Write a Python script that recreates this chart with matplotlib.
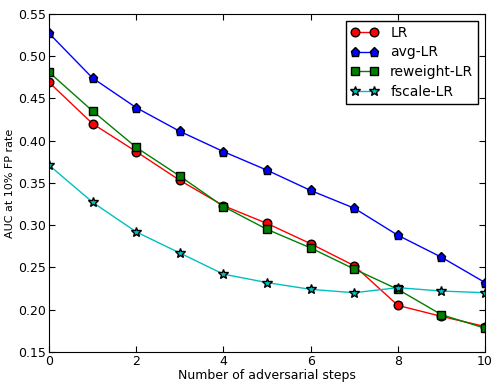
import matplotlib
matplotlib.use("Agg")
import matplotlib.pyplot as plt

steps = list(range(11))
lr = [0.469, 0.420, 0.387, 0.353, 0.323, 0.302, 0.278, 0.252, 0.205, 0.192, 0.180]
avg_lr = [0.527, 0.474, 0.439, 0.411, 0.387, 0.365, 0.341, 0.320, 0.288, 0.262, 0.232]
reweight_lr = [0.481, 0.435, 0.392, 0.358, 0.322, 0.295, 0.273, 0.248, 0.224, 0.194, 0.178]
fscale_lr = [0.371, 0.327, 0.292, 0.267, 0.242, 0.232, 0.224, 0.220, 0.226, 0.222, 0.220]

plt.rcParams['xtick.direction'] = 'in'
plt.rcParams['ytick.direction'] = 'in'
plt.rcParams['font.size'] = 9

fig = plt.figure(figsize=(4.95, 3.85), dpi=100)
ax = fig.add_axes([0.099, 0.086, 0.881, 0.878])

ax.plot(steps, lr, color='red', marker='o', markersize=6.2, markeredgecolor='black', lw=1, label='LR')
ax.plot(steps, avg_lr, color='blue', marker='p', markersize=6.5, markeredgecolor='black', lw=1, label='avg-LR')
ax.plot(steps, reweight_lr, color='green', marker='s', markersize=6.2, markeredgecolor='black', lw=1, label='reweight-LR')
ax.plot(steps, fscale_lr, color='c', marker='*', markersize=7.5, markeredgecolor='black', lw=1, label='fscale-LR')

ax.set_xlim(0, 10)
ax.set_ylim(0.15, 0.55)
ax.set_xticks(range(0, 11, 2))
ax.set_yticks([0.15, 0.20, 0.25, 0.30, 0.35, 0.40, 0.45, 0.50, 0.55])
ax.tick_params(top=True, right=True, length=4, pad=2)
ax.set_xlabel('Number of adversarial steps', labelpad=1)
ax.set_ylabel('AUC at 10% FP rate', fontsize=8, labelpad=2)

leg = ax.legend(loc='upper right', numpoints=2, fancybox=False, fontsize=10,
                framealpha=1, edgecolor='black', handlelength=2.0, handletextpad=0.85,
                labelspacing=0.42, borderpad=0.35, borderaxespad=0.5)
leg.get_frame().set_linewidth(1)

fig.savefig('out.png', dpi=100)
